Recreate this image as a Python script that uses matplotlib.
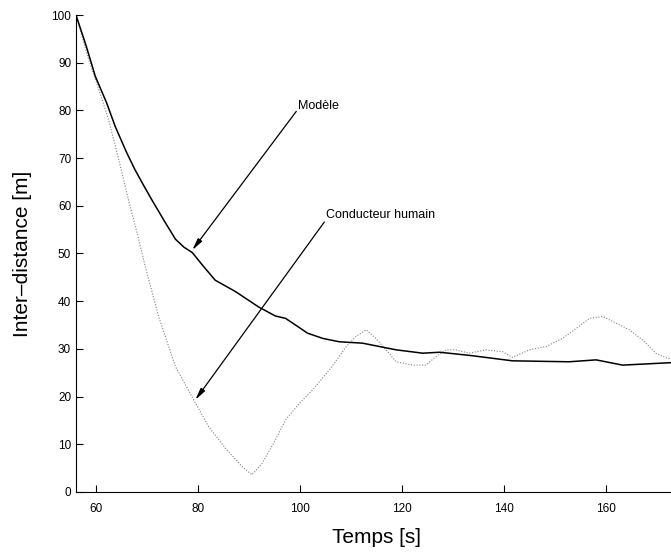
import matplotlib
matplotlib.use("Agg")
import matplotlib.pyplot as plt

plt.rcParams['font.family'] = ['Liberation Sans', 'DejaVu Sans']

# Modele (solid)
model_t = [56, 58, 59.8, 62, 63.7, 66, 67.6, 69.3, 70.9, 73.5, 75.5, 77.2, 78.8, 81, 83.3,
           87.3, 91.8, 95.1, 97.1, 99.2, 101.4, 104.4, 107.6, 112.2, 115.5, 118.8, 124,
           127.3, 133.5, 141.6, 152.7, 158, 163.2, 172.4, 174]
model_d = [100, 93.5, 87.1, 81.6, 76.6, 71.0, 67.5, 64.2, 61.2, 56.5, 53.0, 51.3, 50.2,
           47.3, 44.4, 42, 38.8, 36.9, 36.4, 34.9, 33.3, 32.2, 31.5, 31.2, 30.5, 29.8,
           29.1, 29.3, 28.6, 27.5, 27.3, 27.7, 26.6, 27.1, 27.1]

# Conducteur humain (dotted)
human_t = [56, 58.5, 60.5, 62.4, 64.4, 66.3, 68, 69.6, 72.2, 75.5, 79.1, 82, 85.3, 88.6,
           90.5, 92.5, 95.1, 97.1, 99.8, 102.4, 105.7, 107.6, 109, 110.9, 112.9, 114.8,
           116.8, 118.8, 122, 124.6, 126.6, 128.6, 130.5, 133.1, 136.4, 139.7, 141.6,
           144.9, 148.2, 151.4, 154.1, 156.7, 159.3, 161.9, 164.5, 167.1, 169.7, 172, 174]
human_d = [100, 90.6, 84.3, 78, 69.6, 61.2, 54.2, 47.2, 36.8, 26.3, 19.3, 13.7, 9.2, 5.3,
           3.6, 6, 10.9, 15.1, 18.6, 21.4, 25.6, 28.4, 30.5, 32.6, 34, 32.2,
           29.8, 27.3, 26.6, 26.6, 28.4, 29.8, 29.8, 29.1, 29.8, 29.4, 28.2,
           29.8, 30.5, 32.2, 34.3, 36.4, 36.8, 35.4, 34, 31.9, 29.1, 28, 28]

fig = plt.figure(figsize=(6.71, 5.53), dpi=100)
ax = fig.add_axes([76 / 671, 61 / 553, 1 - 76 / 671 + 0.01, 477 / 553])

ax.plot(human_t, human_d, color='#808080', linestyle=(0, (1, 1.5)), linewidth=0.8)
ax.plot(model_t, model_d, color='black', linewidth=1.1)

ax.set_xlim(56, 174)
ax.set_ylim(0, 100)
ax.set_xticks([60, 80, 100, 120, 140, 160])
ax.set_yticks(range(0, 101, 10))
ax.tick_params(direction='in', length=5, width=0.8, labelsize=8.5)
ax.tick_params(axis='x', pad=8)
for s in ['top', 'right']:
    ax.spines[s].set_visible(False)
for s in ['left', 'bottom']:
    ax.spines[s].set_linewidth(0.8)

ax.set_xlabel('Temps [s]', fontsize=15, labelpad=9)
ax.set_ylabel('Inter\u2013distance [m]', fontsize=15, labelpad=14)

arrow = dict(arrowstyle='-|>,head_length=0.7,head_width=0.15', color='black',
             linewidth=0.9, shrinkA=0, shrinkB=0)
ax.annotate('', xy=(78.8, 50.7), xytext=(99.2, 79.8), arrowprops=arrow)
ax.text(99.6, 81.0, 'Modèle', fontsize=9, ha='left', va='center')
ax.annotate('', xy=(79.4, 19.3), xytext=(104.7, 56.6), arrowprops=arrow)
ax.text(105.1, 58.1, 'Conducteur humain', fontsize=9, ha='left', va='center')

fig.savefig('out.png', dpi=100)
